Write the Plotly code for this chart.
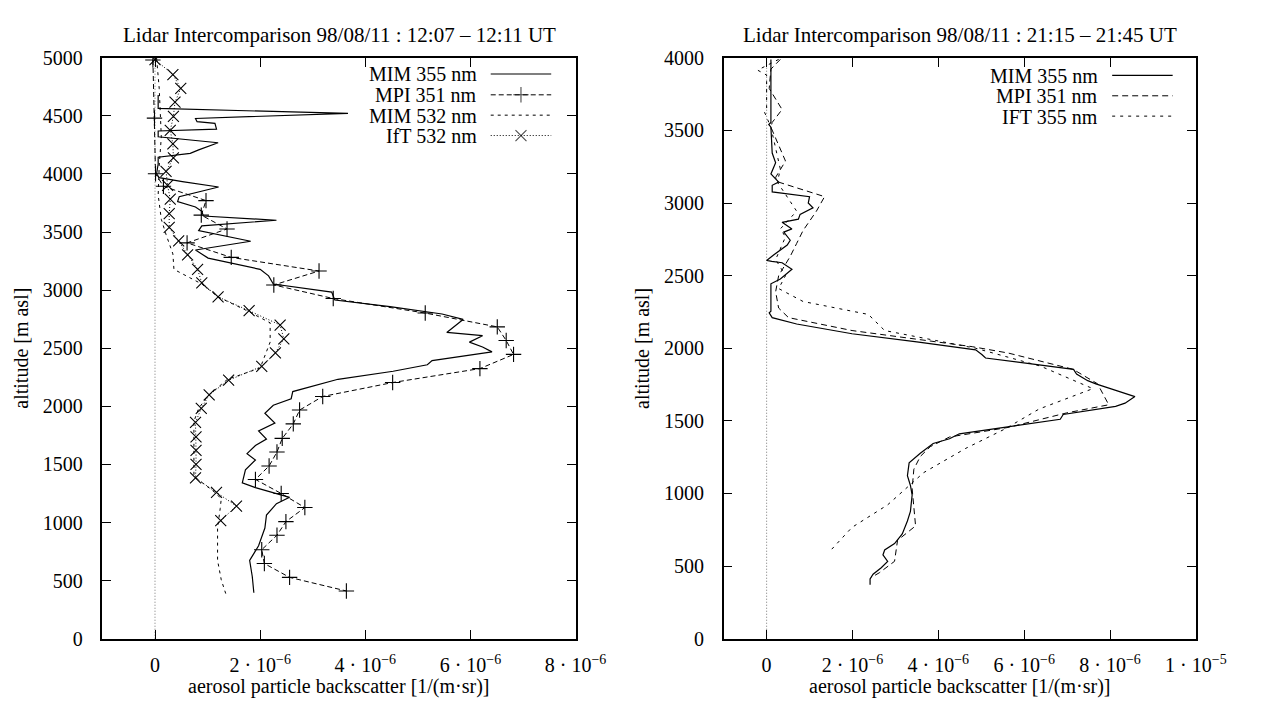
import plotly.graph_objects as go

W, H = 1270, 710
FONT = "Liberation Serif"

# ---------------- data (backscatter in units of 1e-6 1/(m sr), altitude m asl) -------------
# Left panel: 98/08/11 12:07-12:11 UT
alt_mim355_L = [4679, 4564, 4522, 4478, 4450, 4436, 4386, 4370, 4320, 4269, 4208, 4178, 4144, 4086,
                4002, 3969, 3935, 3888, 3805, 3763, 3716, 3679, 3638, 3602, 3554, 3512, 3421, 3346,
                3276, 3179, 3123, 3053, 2984, 2915, 2859, 2795, 2748, 2706, 2636, 2608, 2553, 2511,
                2469, 2394, 2358, 2302, 2233, 2127, 2066, 2010, 1941, 1857, 1788, 1718, 1663, 1593,
                1538, 1454, 1342, 1300, 1217, 1162, 1064, 953, 800, 674, 536, 396]
bsc_mim355_L = [0.06, 0.06, 3.67, 0.77, 0.80, 1.14, 1.17, 0.06, 0.06, 1.20, 0.83, 0.67, 0.06, 0.06,
                0.03, 0.08, 0.52, 1.21, 0.46, 0.43, 0.77, 0.89, 0.92, 2.31, 0.89, 0.83, 1.82, 0.77,
                1.01, 2.00, 2.16, 2.25, 3.36, 3.42, 4.47, 5.46, 5.86, 5.74, 5.55, 6.23, 5.98, 6.23,
                6.41, 5.27, 5.18, 4.53, 3.48, 2.62, 2.59, 2.25, 2.09, 2.28, 1.97, 2.12, 1.91, 1.75,
                1.91, 1.72, 1.66, 1.91, 2.56, 2.31, 2.12, 2.09, 1.97, 1.80, 1.85, 1.88]

alt_mpi351_L = [4981, 4481, 4002, 3894, 3771, 3646, 3527, 3407, 3282, 3165, 3045, 2928, 2803, 2684,
                2567, 2447, 2325, 2205, 2085, 1968, 1849, 1724, 1607, 1487, 1371, 1250, 1129, 1008,
                891, 766, 647, 528, 411]
bsc_mpi351_L = [-0.04, -0.01, 0.01, 0.16, 0.97, 0.88, 1.37, 0.61, 1.45, 3.12, 2.26, 3.39, 5.14, 6.51,
                6.68, 6.82, 6.18, 4.52, 3.19, 2.75, 2.63, 2.42, 2.32, 2.17, 1.91, 2.40, 2.85, 2.49,
                2.32, 2.03, 2.08, 2.56, 3.64]

alt_mim532_L = [4996, 4737, 4320, 4070, 3819, 3610, 3479, 3312, 3179, 3053, 2942, 2823, 2719, 2636,
                2553, 2330, 2233, 2093, 1982, 1871, 1398, 1259, 1204, 1120, 953, 674, 507, 382]
bsc_mim532_L = [0.03, 0.08, 0.12, 0.08, 0.06, 0.12, 0.21, 0.34, 0.36, 0.89, 1.20, 1.75, 2.19, 2.19,
                2.19, 2.00, 1.38, 1.01, 0.83, 0.74, 0.74, 1.14, 1.26, 1.24, 1.19, 1.19, 1.26, 1.35]

alt_ift532_L = [4985, 4856, 4737, 4618, 4495, 4375, 4259, 4138, 4022, 3902, 3783, 3658, 3541, 3424,
                3304, 3179, 3062, 2942, 2823, 2700, 2581, 2461, 2344, 2225, 2099, 1982, 1863, 1738,
                1621, 1501, 1384, 1259, 1142, 1017]
bsc_ift532_L = [0.00, 0.34, 0.49, 0.38, 0.35, 0.29, 0.34, 0.35, 0.21, 0.24, 0.29, 0.27, 0.27, 0.45,
                0.62, 0.81, 0.89, 1.20, 1.79, 2.38, 2.45, 2.29, 2.03, 1.40, 1.03, 0.88, 0.77, 0.78,
                0.78, 0.78, 0.77, 1.17, 1.55, 1.25]

# Right panel: 98/08/11 21:15-21:45 UT
alt_mim355_R = [3989, 3555, 3541, 3522, 3344, 3277, 3200, 3144, 3122, 3077, 3044, 3000, 2967, 2922,
                2889, 2867, 2822, 2800, 2744, 2711, 2644, 2605, 2598, 2589, 2544, 2477, 2444, 2255,
                2244, 2211, 2167, 2100, 2044, 1989, 1955, 1933, 1855, 1822, 1777, 1755, 1667, 1622,
                1600, 1544, 1511, 1467, 1411, 1377, 1344, 1277, 1211, 1122, 1055, 989, 877, 811,
                722, 655, 611, 577, 533, 489, 444, 411, 371]
bsc_mim355_R = [0.10, 0.10, 0.05, 0.10, 0.13, 0.21, 0.10, 0.28, 0.13, 0.13, 1.00, 0.97, 1.08, 0.78,
                0.74, 0.36, 0.59, 0.40, 0.55, 0.48, 0.17, 0.00, 0.12, 0.36, 0.59, 0.32, 0.10, 0.10,
                0.06, 0.13, 0.70, 1.99, 3.50, 4.87, 5.02, 5.10, 7.15, 7.22, 7.48, 7.67, 8.58, 8.35,
                8.13, 6.91, 6.84, 5.78, 4.49, 4.26, 3.88, 3.58, 3.32, 3.28, 3.35, 3.39, 3.35, 3.28,
                3.16, 2.98, 2.75, 2.71, 2.82, 2.67, 2.48, 2.41, 2.41]

alt_mpi351_R = [3989, 3922, 3789, 3644, 3555, 3522, 3289, 3177, 3144, 3044, 2944, 2811, 2722, 2633,
                2500, 2389, 2277, 2211, 2122, 2011, 1967, 1855, 1755, 1611, 1555, 1455, 1389, 1322,
                1255, 1167, 1033, 777, 677, 533, 455, 422]
bsc_mpi351_R = [0.32, 0.10, 0.06, 0.36, 0.13, 0.10, 0.44, 0.21, 0.28, 1.35, 1.16, 0.85, 0.70, 0.55,
                0.28, 0.21, 0.28, 0.51, 1.99, 4.79, 5.63, 7.14, 7.71, 7.97, 6.99, 5.63, 4.26, 3.81,
                3.58, 3.43, 3.39, 3.47, 3.05, 2.98, 2.63, 2.44]

alt_ift355_R = [3989, 3915, 3881, 3655, 3633, 3522, 3233, 3144, 2944, 2822, 2767, 2611, 2500, 2411,
                2322, 2233, 2122, 2000, 1877, 1722, 1582, 1444, 1311, 1144, 922, 767, 611]
bsc_ift355_R = [0.28, -0.21, 0.00, 0.00, -0.06, 0.10, 0.32, 0.25, 0.70, 0.32, 0.44, 0.21, 0.44, 0.28,
                0.85, 2.37, 2.75, 4.87, 6.38, 7.60, 6.35, 5.55, 4.64, 3.66, 2.82, 1.99, 1.50]

# tick labels
xtick_vals_L = [0, 2, 4, 6, 8]
xtick_text_L = ["0", "2 · 10<sup>−6</sup>", "4 · 10<sup>−6</sup>", "6 · 10<sup>−6</sup>", "8 · 10<sup>−6</sup>"]
xtick_vals_R = [0, 2, 4, 6, 8, 10]
xtick_text_R = ["0", "2 · 10<sup>−6</sup>", "4 · 10<sup>−6</sup>", "6 · 10<sup>−6</sup>",
                "8 · 10<sup>−6</sup>", "1 · 10<sup>−5</sup>"]
ytick_vals_L = list(range(0, 5001, 500))
ytick_vals_R = list(range(0, 4001, 500))

title_L = "Lidar Intercomparison 98/08/11 : 12:07 – 12:11 UT"
title_R = "Lidar Intercomparison 98/08/11 : 21:15 – 21:45 UT"
xlabel = "aerosol particle backscatter [1/(m·sr)]"
ylabel = "altitude [m asl]"
legend_L = ["MIM 355 nm", "MPI 351 nm", "MIM 532 nm", "IfT 532 nm"]
legend_R = ["MIM 355 nm", "MPI 351 nm", "IFT 355 nm"]

# ---------------- styles ----------------
BLACK = "black"
sty_solid = dict(color=BLACK, width=1.2, dash="solid")
sty_mpiL = dict(color=BLACK, width=1.0, dash="5px,3px")
sty_mim532 = dict(color=BLACK, width=1.0, dash="3px,4px")
sty_ift532 = dict(color=BLACK, width=1.0, dash="1px,2px")
sty_mpiR = dict(color=BLACK, width=1.0, dash="6px,4px")
sty_iftR = dict(color=BLACK, width=1.0, dash="3px,5px")
mk_plus = dict(symbol="cross-thin", size=11, line=dict(color=BLACK, width=1.1))
mk_x = dict(symbol="x-thin", size=11, line=dict(color=BLACK, width=1.1))

fig = go.Figure()

def add(x, y, line, xa, ya, marker=None):
    fig.add_trace(go.Scatter(x=x, y=y, mode="lines+markers" if marker else "lines",
                             line=line, marker=marker, xaxis=xa, yaxis=ya,
                             showlegend=False, hoverinfo="skip", cliponaxis=True))

add(bsc_mim355_L, alt_mim355_L, sty_solid, "x", "y")
add(bsc_mpi351_L, alt_mpi351_L, sty_mpiL, "x", "y", mk_plus)
add(bsc_mim532_L, alt_mim532_L, sty_mim532, "x", "y")
add(bsc_ift532_L, alt_ift532_L, sty_ift532, "x", "y", mk_x)

add(bsc_mim355_R, alt_mim355_R, sty_solid, "x2", "y2")
add(bsc_mpi351_R, alt_mpi351_R, sty_mpiR, "x2", "y2")
add(bsc_ift355_R, alt_ift355_R, sty_iftR, "x2", "y2")

# ---------------- layout (pixel geometry) ----------------
def px(x):
    return x / W

def py(y):
    return 1 - y / H

L_x0, L_x1 = 105, 590
R_x0, R_x1 = 741.8, 1225.8
Y_top, Y_bot = 48.3, 647.8

tickfont = dict(family=FONT, size=20, color=BLACK)
common_x = dict(showline=True, linecolor=BLACK, linewidth=1.5, mirror="ticks", ticks="inside",
                ticklen=9, tickwidth=1.3, tickcolor=BLACK, showgrid=False, zeroline=False,
                tickfont=tickfont, tickmode="array", ticklabelstandoff=8)
common_y = dict(showline=True, linecolor=BLACK, linewidth=1.5, mirror="ticks", ticks="inside",
                ticklen=9, tickwidth=1.3, tickcolor=BLACK, showgrid=False, zeroline=False,
                tickfont=tickfont, tickmode="array", ticklabelstandoff=14)

fig.update_layout(
    width=W, height=H, margin=dict(l=0, r=0, t=0, b=0), autosize=False,
    paper_bgcolor="white", plot_bgcolor="rgba(0,0,0,0)",
    font=dict(family=FONT, size=20, color=BLACK),
    xaxis=dict(domain=[px(L_x0), px(L_x1)], range=[-1, 8], anchor="y",
               tickvals=xtick_vals_L, ticktext=xtick_text_L, **common_x),
    yaxis=dict(domain=[py(Y_bot), py(Y_top)], range=[0, 5000], anchor="x",
               tickvals=ytick_vals_L, ticktext=[str(v) for v in ytick_vals_L], **common_y),
    xaxis2=dict(domain=[px(R_x0), px(R_x1)], range=[-1, 10], anchor="y2",
                tickvals=xtick_vals_R, ticktext=xtick_text_R, **common_x),
    yaxis2=dict(domain=[py(Y_bot), py(Y_top)], range=[0, 4000], anchor="x2",
                tickvals=ytick_vals_R, ticktext=[str(v) for v in ytick_vals_R], **common_y),
    # full-figure pixel overlay for the gnuplot-style key samples
    xaxis3=dict(domain=[0, 1], range=[0, W], visible=False, anchor="y3"),
    yaxis3=dict(domain=[0, 1], range=[H, 0], visible=False, anchor="x3"),
    showlegend=False,
)

# zero axis (dotted)
for xa, ya in (("x", "y"), ("x2", "y2")):
    fig.add_shape(type="line", xref=xa, yref=ya + " domain", x0=0, x1=0, y0=0, y1=1,
                  line=dict(color="#777777", width=1, dash="1px,2px"), layer="below")

ann = []
def text(x, y, s, xanchor="center", yanchor="middle", angle=0, size=21, height=None):
    d = dict(x=px(x), y=py(y), xref="paper", yref="paper", text=s, showarrow=False,
             xanchor=xanchor, yanchor=yanchor, textangle=angle, borderpad=0,
             font=dict(family=FONT, size=size, color=BLACK))
    if height:
        d["height"] = height
        d["valign"] = "middle"
    ann.append(d)

text((L_x0 + L_x1) / 2, 25, title_L)
text((R_x0 + R_x1) / 2, 25, title_R)
text((L_x0 + L_x1) / 2, 697, xlabel, size=20)
text((R_x0 + R_x1) / 2, 697, xlabel, size=20)
text(22, (Y_top + Y_bot) / 2, ylabel, angle=-90, size=20)
text(22 + (R_x0 - L_x0), (Y_top + Y_bot) / 2, ylabel, angle=-90, size=20)

# key (text right-aligned, sample on right)
key_rows_L = [65, 86.5, 107.5, 128.5]
key_styles_L = [(sty_solid, None), (sty_mpiL, mk_plus), (sty_mim532, None), (sty_ift532, mk_x)]
for lab, yy, (ln, mk) in zip(legend_L, key_rows_L, key_styles_L):
    text(490, yy, lab, xanchor="right", size=20, height=19)
    fig.add_trace(go.Scatter(x=[503, 534, 565], y=[yy, yy, yy], xaxis="x3", yaxis="y3",
                             mode="lines+markers" if mk else "lines", line=ln,
                             marker=dict(mk, size=[0, mk["size"], 0]) if mk else None,
                             showlegend=False, hoverinfo="skip"))

key_rows_R = [66.5, 87.5, 108.5]
key_styles_R = [sty_solid, sty_mpiR, sty_iftR]
for lab, yy, ln in zip(legend_R, key_rows_R, key_styles_R):
    text(1126, yy, lab, xanchor="right", size=20, height=19)
    fig.add_trace(go.Scatter(x=[1140, 1202], y=[yy, yy], xaxis="x3", yaxis="y3",
                             mode="lines", line=ln, showlegend=False, hoverinfo="skip"))

fig.update_layout(annotations=ann)
fig.write_html("out.html")
